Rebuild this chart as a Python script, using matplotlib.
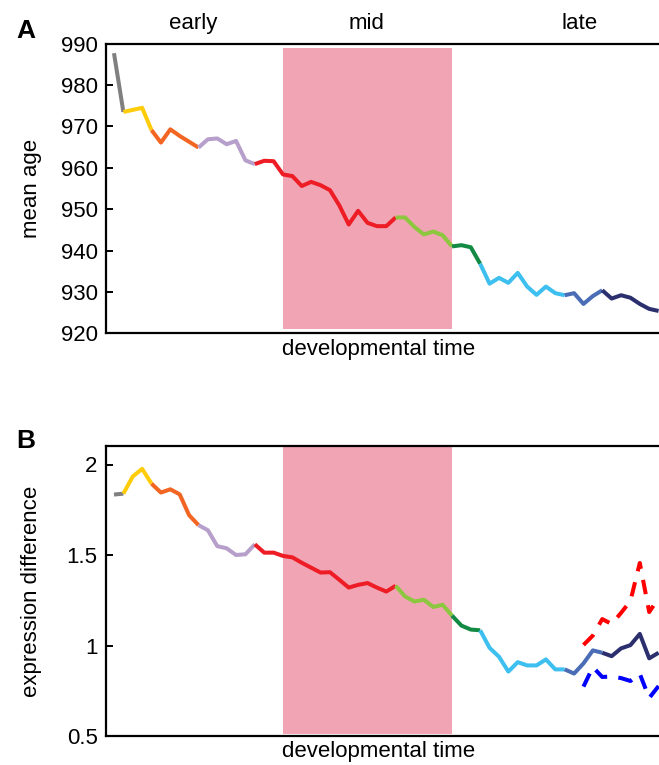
import numpy as np
import matplotlib
matplotlib.use("Agg")
import matplotlib.pyplot as plt
from matplotlib.transforms import blended_transform_factory

plt.rcParams['font.family'] = ['Liberation Sans', 'DejaVu Sans']

# mean age per developmental stage
mean_age = [987.7, 973.5, 974.0, 974.5, 969.1, 966.1, 969.3, 967.7, 966.3, 964.9,
            966.9, 967.1, 965.7, 966.5, 961.8, 960.9, 961.7, 961.6, 958.4, 958.0,
            955.6, 956.6, 955.8, 954.6, 950.9, 946.3, 949.6, 946.7, 945.9, 945.9,
            948.0, 948.0, 945.7, 943.9, 944.6, 943.7, 941.0, 941.3, 940.8, 936.8,
            932.0, 933.4, 932.2, 934.6, 931.3, 929.3, 931.3, 929.7, 929.2, 929.7,
            927.1, 929.0, 930.4, 928.4, 929.2, 928.6, 927.1, 925.9, 925.4]

# expression difference per developmental stage
expr_diff = [1.834, 1.839, 1.934, 1.976, 1.894, 1.845, 1.863, 1.835, 1.720, 1.665,
             1.637, 1.549, 1.537, 1.500, 1.504, 1.559, 1.513, 1.513, 1.495, 1.487,
             1.457, 1.430, 1.403, 1.405, 1.363, 1.320, 1.335, 1.345, 1.320, 1.298,
             1.330, 1.271, 1.243, 1.253, 1.213, 1.225, 1.165, 1.110, 1.088, 1.084,
             0.987, 0.938, 0.856, 0.908, 0.890, 0.890, 0.923, 0.868, 0.868, 0.845,
             0.901, 0.973, 0.960, 0.941, 0.984, 1.002, 1.064, 0.929, 0.960]

# bounds over the last stages (start at stage 50)
bound_start = 50
upper_bound = [1.003, 1.055, 1.146, 1.119, 1.180, 1.246, 1.456, 1.185, 1.262]
lower_bound = [0.773, 0.881, 0.826, 0.829, 0.820, 0.804, 0.843, 0.710, 0.776]

# stage groups: (first index, last index, colour)
groups = [
    (0, 1, '#808080'),
    (1, 4, '#FFCC0A'),
    (4, 9, '#F26522'),
    (9, 15, '#B79FCB'),
    (15, 30, '#EE1C25'),
    (30, 36, '#8DC63F'),
    (36, 39, '#138A43'),
    (39, 48, '#3DBFEF'),
    (48, 52, '#4A6DB5'),
    (52, 58, '#2B2F6E'),
]

periods = ['early', 'mid', 'late']
period_centers = [8.4, 26.9, 49.6]
mid_start, mid_end = 18, 36

FS = 16
fig = plt.figure(figsize=(6.59, 7.65), dpi=100)
W, H = 659.0, 765.0
ax_left = 106 / W
ax_width = (704.6 - 106) / W
axA = fig.add_axes([ax_left, 1 - 333.3 / H, ax_width, (333.3 - 43.7) / H])
axB = fig.add_axes([ax_left, 1 - 736.0 / H, ax_width, (736.0 - 446.4) / H])

x = np.arange(len(mean_age))


def draw_segments(ax, values):
    for i0, i1, col in groups:
        ax.plot(x[i0:i1 + 1], values[i0:i1 + 1], color=col, lw=2.9,
                solid_joinstyle='round', solid_capstyle='butt', zorder=3)


def style_axes(ax):
    ax.set_xlim(-0.85, 62.9)
    ax.set_xticks([])
    for sp in ax.spines.values():
        sp.set_linewidth(1.6)
    ax.tick_params(axis='y', direction='in', length=5, width=1.4,
                   labelsize=FS, pad=6)
    ax.set_xlabel('developmental time', fontsize=FS)
    ax.xaxis.set_label_coords(0.455, -0.018)
    ax.xaxis.label.set_va('top')


# panel A
axA.fill_between([mid_start, mid_end], 921, 989, color='#F1A5B4', lw=0, zorder=1)
draw_segments(axA, mean_age)
axA.set_ylim(920, 990)
axA.set_yticks(np.arange(920, 991, 10))
style_axes(axA)
axA.set_ylabel('mean age', fontsize=FS)
axA.yaxis.set_label_coords(-0.107, 0.5)
trans = blended_transform_factory(axA.transData, axA.transAxes)
for name, cx in zip(periods, period_centers):
    axA.text(cx, 1.0497, name, transform=trans, ha='center', va='baseline',
             fontsize=FS)

# panel B
axB.fill_between([mid_start, mid_end], 0.51, 2.1, color='#F1A5B4', lw=0, zorder=1)
draw_segments(axB, expr_diff)
xb = np.arange(bound_start, bound_start + len(upper_bound))
axB.plot(xb, upper_bound, color='#FF0000', lw=2.9, dashes=(3.6, 2.8), zorder=3)
axB.plot(xb, lower_bound, color='#0000FF', lw=2.9, dashes=(3.6, 2.8), zorder=3)
axB.set_ylim(0.5, 2.1)
axB.set_yticks([0.5, 1, 1.5, 2])
axB.set_yticklabels(['0.5', '1', '1.5', '2'])
style_axes(axB)
axB.set_ylabel('expression difference', fontsize=FS)
axB.yaxis.set_label_coords(-0.107, 0.5)

fig.text(16 / W, 1 - 38.3 / H, 'A', fontsize=19, fontweight='bold',
         ha='left', va='baseline')
fig.text(16 / W, 1 - 448 / H, 'B', fontsize=19, fontweight='bold',
         ha='left', va='baseline')

fig.savefig('out.png', dpi=100)
